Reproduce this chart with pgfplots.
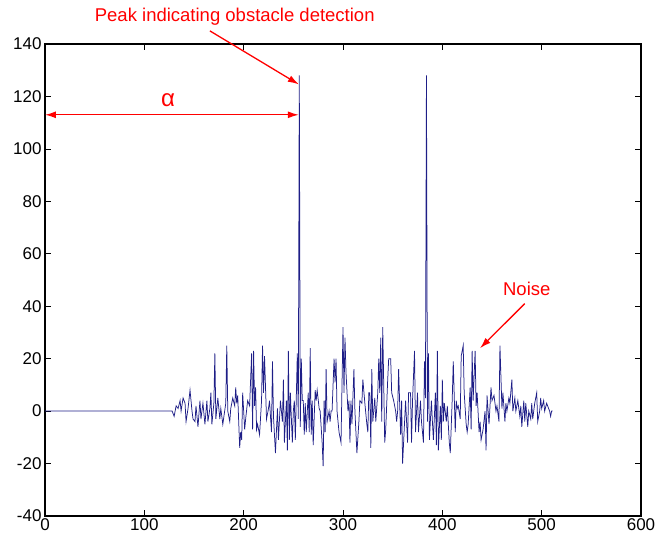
\documentclass[border=0pt]{standalone}
\usepackage{pgfplots}
\pgfplotsset{compat=1.18}
\usepackage{fontspec}
\setmainfont{Liberation Sans}
\usetikzlibrary{arrows.meta}
\definecolor{sig}{RGB}{30,30,135}

% signal samples (n, value)
\pgfplotstableread{
n v
0 0
127 0
128 0
130 -2
132 2
134 1
136 4
137 0
139 5
141 3
142 -4
144 1
146 8
148 0
149 -3
151 -4
152 2
154 -6
156 4
157 -3
159 3
161 -5
163 4
164 -4
166 1
167 7
168 -5
170 3
171 22
172 -3
174 5
176 -3
177 1
179 -5
182 3
183 25
184 0
186 -4
187 1
189 5
191 2
192 9
193 3
194 6
196 -14
197 -8
198 -11
199 7
201 -7
202 -3
204 4
206 2
208 22
209 -7
210 23
211 2
212 9
213 -7
214 -5
216 -9
218 4
219 25
220 7
221 21
223 -3
225 1
226 4
228 -8
229 19
230 -2
232 -16
234 1
235 -11
237 4
239 -4
240 12
241 -12
243 4
244 -15
245 23
246 -11
247 7
249 -12
250 0
251 4
252 -11
254 22
255 -3
256 128
257 -6
258 20
259 4
260 4
261 -9
262 3
263 -8
265 7
266 -8
267 24
268 -9
269 4
270 -13
272 8
273 4
274 8
276 1
277 0
279 -12
280 -21
281 4
282 -8
283 16
284 -4
286 0
287 -4
288 0
289 0
291 20
292 11
293 20
294 0
296 -8
298 -12
300 32
301 7
302 28
303 15
305 0
306 4
307 -12
308 4
309 -5
311 16
312 0
314 -16
316 -4
317 4
319 3
320 12
322 3
324 -5
325 -8
326 7
327 7
328 -14
329 16
330 -4
332 5
333 -4
335 7
336 20
337 7
338 28
339 -4
340 32
342 -12
343 -7
345 12
346 20
348 20
349 7
351 4
353 0
354 -4
355 0
356 16
358 -9
359 4
360 -20
362 -4
363 4
365 -12
366 7
368 7
369 -12
370 4
372 23
373 -8
375 7
376 -8
378 4
379 -4
381 -12
382 19
383 5
384 128
385 -4
386 22
387 -11
389 4
390 -4
391 -11
393 7
394 -13
395 23
396 -15
398 2
399 -11
400 12
401 -4
402 3
404 -4
405 2
407 -12
408 -16
410 5
411 19
413 -8
414 4
415 1
416 2
418 -3
419 21
421 25
422 7
424 -5
425 -8
426 -5
428 9
429 -7
430 23
431 4
433 23
434 2
435 7
437 -8
438 -4
439 -11
441 -7
443 0
444 -15
445 6
447 -5
449 9
450 4
452 6
454 0
455 2
457 -4
458 25
460 1
461 7
463 -4
464 3
465 0
467 5
468 3
470 12
471 0
473 5
474 0
476 4
478 -2
479 2
480 -6
482 4
483 -4
484 3
486 -6
487 0
489 -3
490 3
491 -3
493 3
495 7
496 -4
498 0
499 5
500 1
502 4
503 0
505 3
506 2
508 0
509 -2
510 0
511 0
}\signal

\begin{document}
\begin{tikzpicture}
\useasboundingbox (-45pt,-22pt) rectangle (626pt,516pt);
\begin{axis}[
    scale only axis, width=596pt, height=472pt,
    xmin=0, xmax=600, ymin=-40, ymax=140,
    xtick={0,100,...,600}, ytick={-40,-20,...,140},
    tick align=inside, tick pos=both,
    major tick length=6pt,
    every tick/.style={black, line width=0.7pt},
    axis line style={black, line width=1.1pt},
    ticklabel style={font=\fontsize{17}{20}\selectfont},
    xticklabel style={yshift=1pt},
    /pgf/number format/assume math mode=true,
    clip=false,
]
\addplot[sig, line width=0.75pt] table[x=n, y=v] {\signal};

% annotations
\node[red, font=\fontsize{18.5}{22}\selectfont] at (axis cs:191,150.3) {Peak indicating obstacle detection};
\draw[red, line width=1.3pt, -{Latex[length=11pt,width=7pt]}] (axis cs:166,145) -- (axis cs:255.5,124.6);
\draw[red, line width=1.3pt, {Latex[length=11pt,width=7pt]}-{Latex[length=11pt,width=7pt]}] (axis cs:0,113) -- (axis cs:255.5,113);
\node[red, font=\fontsize{24}{28}\selectfont] at (axis cs:124,118.5) {α};
\node[red, font=\fontsize{18.5}{22}\selectfont] at (axis cs:485,46.5) {Noise};
\draw[red, line width=1.3pt, -{Latex[length=11pt,width=7pt]}] (axis cs:483,41) -- (axis cs:438,24);
\end{axis}
\end{tikzpicture}
\end{document}
